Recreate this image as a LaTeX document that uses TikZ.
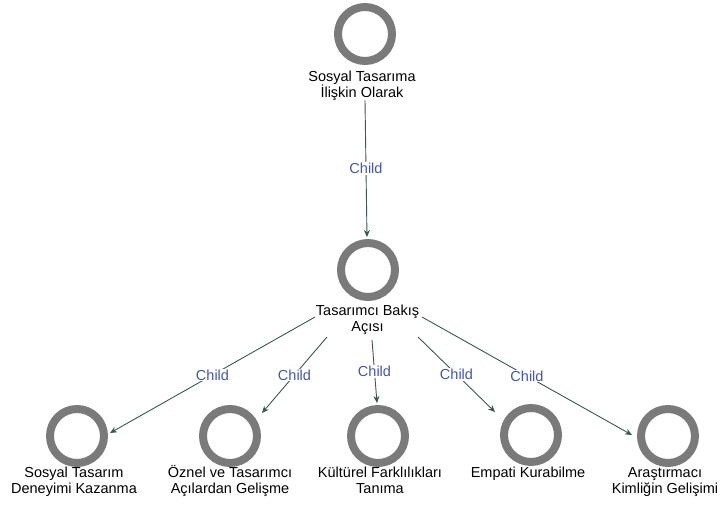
\documentclass[tikz,border=0pt]{standalone}
\usepackage{fontspec}
\setmainfont{Liberation Sans}
\usetikzlibrary{arrows.meta}
\definecolor{ringgray}{RGB}{122,122,122}
\definecolor{edgecol}{RGB}{58,88,78}
\definecolor{lblblue}{RGB}{72,86,168}

\begin{document}
\begin{tikzpicture}[x=1pt,y=1pt,
  ring/.style={circle, draw=ringgray, line width=8pt, minimum size=54pt, inner sep=0pt},
  caption/.style={align=center, inner sep=0pt, font=\fontsize{14.5}{16}\selectfont, anchor=base},
  edge/.style={draw=edgecol, line width=0.9pt, -{Stealth[length=7pt,width=6pt]}},
  lbl/.style={text=lblblue, fill=white, inner sep=1pt, font=\fontsize{14.5}{16}\selectfont}]
\useasboundingbox (0,0) rectangle (721,-506);

% vertices
\node[ring] (t)  at (365,-34)  {};
\node[ring] (m)  at (368,-270) {};
\node[ring] (c1) at (77,-436)  {};
\node[ring] (c2) at (230,-436) {};
\node[ring] (c3) at (378,-436) {};
\node[ring] (c4) at (531,-435) {};
\node[ring] (c5) at (668,-436) {};

% vertex captions (anchored at the baseline of their last line)
\node[caption] (tl) at (362,-97)    {Sosyal Tasarıma\\İlişkin Olarak};
\node[caption] (ml) at (367.5,-331) {Tasarımcı Bakış\\Açısı};
\node[caption] (l1) at (74,-493)    {Sosyal Tasarım\\Deneyimi Kazanma};
\node[caption] (l2) at (230,-493)   {Öznel ve Tasarımcı\\Açılardan Gelişme};
\node[caption] (l3) at (380,-493)   {Kültürel Farklılıkları\\Tanıma};
\node[caption] (l4) at (528,-477)   {Empati Kurabilme};
\node[caption] (l5) at (665,-493)   {Araştırmacı\\Kimliğin Gelişimi};

% edges
\draw[edge] ([shift={(3,-3)}]tl.base) -- node[lbl]{Child} ([shift={(-1,33)}]m.center);
\draw[edge] ([shift={(-52.5,14)}]ml.base) -- node[lbl]{Child} ([shift={(33,3)}]c1.center);
\draw[edge] ([shift={(-40.5,-6)}]ml.base) -- node[lbl]{Child} ([shift={(32,23)}]c2.center);
\draw[edge] ([shift={(4.5,-9)}]ml.base) -- node[lbl]{Child} ([shift={(-1,33)}]c3.center);
\draw[edge] ([shift={(50.5,-6)}]ml.base) -- node[lbl]{Child} ([shift={(-36,23)}]c4.center);
\draw[edge] ([shift={(54.5,14)}]ml.base) -- node[lbl]{Child} ([shift={(-36,1)}]c5.center);
\end{tikzpicture}
\end{document}
